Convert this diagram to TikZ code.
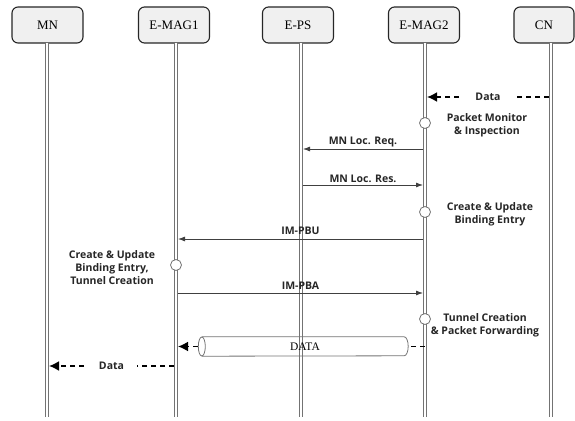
\documentclass[tikz,border=0pt]{standalone}
\usepackage{fontspec}
\setmainfont{Liberation Serif}
\newfontfamily\lblfont{Open Sans}
\usetikzlibrary{arrows.meta}
\begin{document}
\begin{tikzpicture}[x=1pt,y=-1pt,
 actor/.style={draw=black!85, line width=1.1pt, rounded corners=6pt, fill=black!6,
   minimum width=71pt, minimum height=36pt, inner sep=0pt,
   font=\fontsize{13}{15}\selectfont},
 life/.style={draw=black!55, double=white, double distance=2.4pt, line width=0.8pt},
 msg/.style={draw=black!75, line width=0.8pt, -{Latex[length=7pt,width=5pt]}},
 dataarrow/.style={draw=black, line width=1.8pt, dash pattern=on 5pt off 4pt,
   -{Latex[length=10pt,width=10pt]}},
 dataline/.style={draw=black, line width=1.8pt, dash pattern=on 5pt off 4pt},
 lbl/.style={font=\lblfont\bfseries\fontsize{10.5}{13}\selectfont, align=center, text=black!85},
 evt/.style={circle, draw=black!55, fill=white, line width=0.8pt, minimum size=11pt, inner sep=0pt},
 tube/.style={draw=black!55, line width=0.8pt}
]
\useasboundingbox (0,0) rectangle (575,420);

% actors
\node[actor] (mn)   at (47.5,25) {MN};
\node[actor] (mag1) at (174,25) {E-MAG1};
\node[actor] (ps)   at (298,25) {E-PS};
\node[actor] (mag2) at (424,25) {E-MAG2};
\node[actor, minimum width=60pt] (cn) at (544,25) {CN};

% lifeline bottoms
\coordinate (mnB)   at (47,417);
\coordinate (mag1B) at (176,417);
\coordinate (psB)   at (301,417);
\coordinate (mag2B) at (425,417);
\coordinate (cnB)   at (551,417);

\draw[life] (47,43) -- (mnB);
\draw[life] (176,43) -- (mag1B);
\draw[life] (301,43) -- (psB);
\draw[life] (425,43) -- (mag2B);
\draw[life] (551,43) -- (cnB);

% event coordinates
\coordinate (cnD)    at (549,97);
\coordinate (mag2D)  at (427,97);
\coordinate (mag2R1) at (423,149);
\coordinate (psR1)   at (303,149);
\coordinate (psR2)   at (303,185);
\coordinate (mag2R2) at (423,185);
\coordinate (mag2U)  at (423,239);
\coordinate (mag1U)  at (178,239);
\coordinate (mag1A)  at (178,293);
\coordinate (mag2A)  at (423,293);
\coordinate (mag2T)  at (425,346.5);
\coordinate (mag1T)  at (178,346.5);
\coordinate (mag1D)  at (174,366);
\coordinate (mnD)    at (49,366);

% data from CN
\draw[dataarrow] (cnD) -- node[fill=white, lbl, inner xsep=13pt, inner ysep=1pt] {Data} (mag2D);

% event circles
\node[evt] (c1) at (425,123) {};
\node[lbl] (t1) at (487,125) {Packet Monitor\\\& Inspection};

\draw[msg] (mag2R1) -- node[lbl, above, inner sep=1.5pt] {MN Loc. Req.} (psR1);
\draw[msg] (psR2) -- node[lbl, above, inner sep=1.5pt] {MN Loc. Res.} (mag2R2);

\node[evt] (c2) at (425,212) {};
\node[lbl] (t2) at (490,214) {Create \& Update\\Binding Entry};

\draw[msg] (mag2U) -- node[lbl, above, inner sep=4pt] {IM-PBU} (mag1U);

\node[evt] (c3) at (176,265) {};
\node[lbl] (t3) at (112,267.5) {Create \& Update\\Binding Entry,\\Tunnel Creation};

\draw[msg] (mag1A) -- node[lbl, above, inner sep=3pt] {IM-PBA} (mag2A);

\node[evt] (c4) at (425,319) {};
\node[lbl] (t4) at (485,325) {Tunnel Creation\\\& Packet Forwarding};

% tunnel
\node[minimum width=206pt, minimum height=19pt, inner sep=0pt,
      font=\fontsize{11.5}{13}\selectfont] (tun) at (305,346.5) {DATA};
\draw[tube] (tun.north west) -- ([xshift=-4pt]tun.north east)
   arc[start angle=-90, end angle=90, x radius=4, y radius=9.5]
   -- (tun.south west);
\draw[tube] (tun.west) ellipse[x radius=3.5, y radius=9.5];
\draw[dataline] (mag2T) -- ([xshift=2pt]tun.east);
\draw[dataarrow] ([xshift=-4pt]tun.west) -- (mag1T);

% data to MN
\draw[dataarrow] (mag1D) -- node[fill=white, lbl, inner xsep=13pt, inner ysep=1pt] {Data} (mnD);
\end{tikzpicture}
\end{document}
